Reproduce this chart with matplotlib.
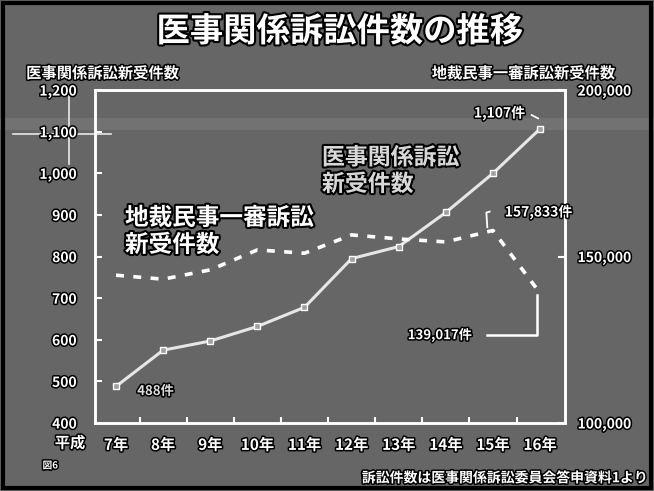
import matplotlib.pyplot as plt
import matplotlib.patheffects as pe
from matplotlib.patches import Rectangle
from matplotlib.lines import Line2D

plt.rcParams['font.family'] = ['Noto Sans CJK JP', 'DejaVu Sans']
plt.rcParams['font.weight'] = 'bold'

# 平成7年〜16年
years = ['7年', '8年', '9年', '10年', '11年', '12年', '13年', '14年', '15年', '16年']
medical = [488, 575, 597, 632, 678, 795, 824, 906, 1000, 1107]
district = [144400, 143200, 146000, 152000, 151000, 156500, 155300, 154400, 157833, 139017]

left_ticks = [400, 500, 600, 700, 800, 900, 1000, 1100, 1200]
left_labels = ['400', '500', '600', '700', '800', '900', '1,000', '1,100', '1,200']
right_ticks = [100000, 150000, 200000]
right_labels = ['100,000', '150,000', '200,000']

bg = '#666666'
outline = [pe.withStroke(linewidth=2.2, foreground='black')]

fig = plt.figure(figsize=(6.54, 4.91), dpi=100)
fig.patch.set_facecolor(bg)

# light band across the sheet and crosshair near 1,100
fig.patches.append(Rectangle((0, 0.735), 1, 0.025, transform=fig.transFigure,
                             facecolor='#727272', edgecolor='none', zorder=-1))
fig.lines.append(Line2D([0.02, 0.17], [0.728, 0.728], transform=fig.transFigure,
                        color='#e8e8e8', lw=1.2, zorder=-0.5))
fig.lines.append(Line2D([0.106, 0.106], [0.665, 0.817], transform=fig.transFigure,
                        color='#e8e8e8', lw=1.2, zorder=-0.5))
# outer frame
fig.patches.append(Rectangle((0.004, 0.006), 0.992, 0.988, transform=fig.transFigure,
                             fill=False, edgecolor='black', lw=3))

ax = fig.add_axes([0.145, 0.1385, 0.719, 0.678])
ax.set_facecolor('none')
ax2 = ax.twinx()

x = list(range(len(years)))
ax.plot(x, medical, color='#e6e6e6', lw=2.2, marker='s', markersize=5,
        markerfacecolor='#a0a0a0', markeredgecolor='white', markeredgewidth=1, zorder=3)
ax2.plot(x, district, color='white', lw=2.6, dashes=(2.2, 2.6), zorder=3)

ax.set_xlim(-0.45, 9.53)
ax.set_ylim(400, 1200)
ax2.set_ylim(100000, 200000)

for a in (ax, ax2):
    for s in a.spines.values():
        s.set_color('white')
        s.set_linewidth(1.8)

ax.set_xticks(x)
ax.set_xticklabels(years, color='white', fontsize=11, path_effects=outline)
ax.set_xticks([i + 0.5 for i in range(9)], minor=True)
ax.tick_params(axis='x', which='major', length=0, pad=10)
ax.tick_params(axis='x', which='minor', direction='in', length=4, color='white', width=1.5)

ax.set_yticks(left_ticks)
ax.set_yticklabels(left_labels, color='white', fontsize=10, path_effects=outline)
ax.tick_params(axis='y', direction='in', length=5, color='white', width=1.5, pad=13)

ax2.set_yticks(right_ticks)
ax2.set_yticklabels(right_labels, color='white', fontsize=10, path_effects=outline)
ax2.tick_params(axis='y', direction='in', length=5, color='white', width=1.5, pad=9)

# titles and captions
fig.text(0.52, 0.935, '医事関係訴訟件数の推移', ha='center', va='center', color='white',
         fontsize=24, path_effects=[pe.withStroke(linewidth=3, foreground='black')])
fig.text(0.04, 0.851, '医事関係訴訟新受件数', ha='left', va='center', color='white',
         fontsize=11, path_effects=outline)
fig.text(0.94, 0.851, '地裁民事一審訴訟新受件数', ha='right', va='center', color='white',
         fontsize=11, path_effects=outline)
fig.text(0.107, 0.098, '平成', ha='center', va='center', color='white',
         fontsize=11, path_effects=outline)
fig.text(0.065, 0.052, '図6', ha='left', va='center', color='white',
         fontsize=7, path_effects=outline)
fig.text(0.99, 0.026, '訴訟件数は医事関係訴訟委員会答申資料1より', ha='right', va='center',
         color='white', fontsize=10, path_effects=outline)

# series captions inside the plot
big = [pe.withStroke(linewidth=3, foreground='black')]
ax.text(4.37, 1037, '医事関係訴訟', ha='left', va='center', color='#d8d8d8',
        fontsize=16.5, path_effects=big)
ax.text(4.37, 973, '新受件数', ha='left', va='center', color='#d8d8d8',
        fontsize=16.5, path_effects=big)
ax.text(0.19, 893, '地裁民事一審訴訟', ha='left', va='center', color='white',
        fontsize=17, path_effects=big)
ax.text(0.19, 828, '新受件数', ha='left', va='center', color='white',
        fontsize=17, path_effects=big)

# value labels
ax.text(0.45, 477, f'{medical[0]}件', ha='left', va='center', color='#dddddd',
        fontsize=9.5, path_effects=outline)
ax.text(8.68, 1145, f'{medical[-1]:,}件', ha='right', va='center', color='white',
        fontsize=10, path_effects=outline)
ax.plot([8.82, 8.96], [1140, 1132], color='white', lw=1.2)
ax2.text(8.25, 163400, f'{district[8]:,}件', ha='left', va='center', color='white',
         fontsize=10, path_effects=outline, zorder=5)
ax2.plot([7.88, 7.86, 7.93], [158800, 163200, 163500], color='white', lw=1.3)
ax2.text(7.56, 126400, f'{district[9]:,}件', ha='right', va='center', color='white',
         fontsize=9.5, path_effects=outline)
ax2.plot([7.88, 8.94, 8.94], [126400, 126400, 138300], color='white', lw=1.8)

fig.savefig('out.png', dpi=100, facecolor=fig.get_facecolor())
